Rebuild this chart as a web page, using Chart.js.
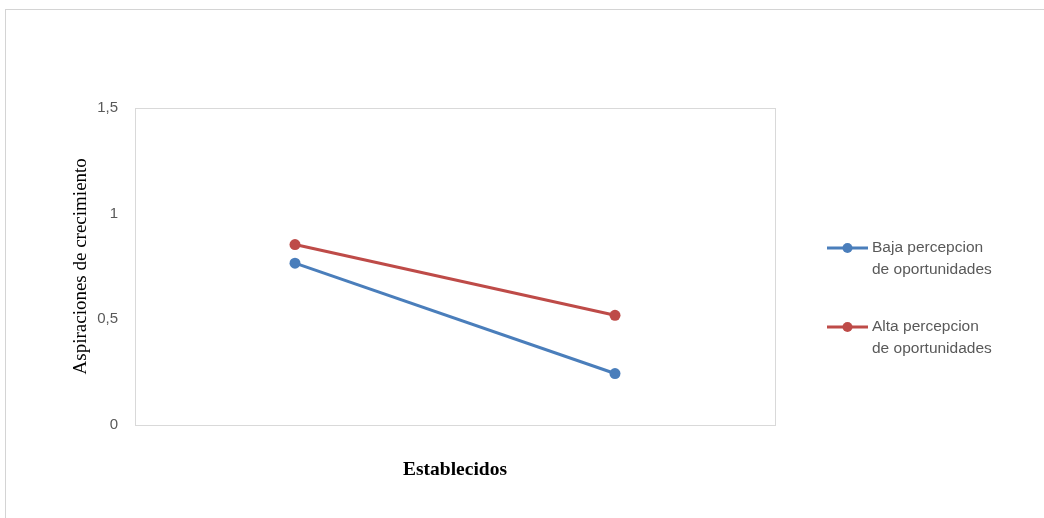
<!DOCTYPE html>
<html>
<head>
<meta charset="utf-8">
<script src="https://cdn.jsdelivr.net/npm/chart.js@4"></script>
<style>
  html, body { margin: 0; padding: 0; background: #fff; }
  #wrap { position: relative; width: 1044px; height: 518px; overflow: hidden; }
  #frame { position: absolute; left: 5px; top: 9px; width: 1100px; height: 600px;
           border-top: 1px solid #d4d4d4; border-left: 1px solid #d4d4d4; }
  canvas { position: absolute; left: 0; top: 0; }
</style>
</head>
<body>
<div id="wrap">
  <div id="frame"></div>
  <canvas id="chart" width="1044" height="518"></canvas>
</div>
<script>
const categories = ['Baja', 'Alta'];
const bajaValues = [0.765, 0.242];
const altaValues = [0.853, 0.518];
const seriesNames = [
  ['Baja percepcion', 'de oportunidades'],
  ['Alta percepcion', 'de oportunidades']
];
const yTicks = [0, 0.5, 1, 1.5];

const colors = ['#4a7ebb', '#be4b48'];

// plot area border + legend on the right
const extras = {
  id: 'extras',
  beforeDraw(chart) {
    const a = chart.chartArea;
    const ctx = chart.ctx;
    ctx.save();
    ctx.strokeStyle = '#d9d9d9';
    ctx.lineWidth = 1;
    ctx.strokeRect(Math.round(a.left) + 0.5, Math.round(a.top) + 0.5,
      Math.round(a.right - a.left), Math.round(a.bottom - a.top));
    ctx.restore();
  },
  afterDraw(chart) {
    const ctx = chart.ctx;
    ctx.save();
    chart.data.datasets.forEach((ds, i) => {
      const y = 248 + i * 79;
      ctx.strokeStyle = ds.borderColor;
      ctx.lineWidth = 3;
      ctx.beginPath();
      ctx.moveTo(827, y);
      ctx.lineTo(868, y);
      ctx.stroke();
      ctx.fillStyle = ds.borderColor;
      ctx.beginPath();
      ctx.arc(847.5, y, 5, 0, Math.PI * 2);
      ctx.fill();
      ctx.fillStyle = '#595959';
      ctx.font = '15.5px "Liberation Sans", Arial, sans-serif';
      ctx.textBaseline = 'middle';
      ctx.textAlign = 'left';
      seriesNames[i].forEach((line, j) => {
        ctx.fillText(line, 872, y + j * 22);
      });
    });
    ctx.restore();
  }
};

new Chart(document.getElementById('chart'), {
  type: 'line',
  data: {
    labels: categories,
    datasets: [
      {
        label: seriesNames[0].join(' '),
        data: bajaValues,
        borderColor: colors[0],
        backgroundColor: colors[0],
        borderWidth: 3,
        pointRadius: 5.5,
        pointHoverRadius: 5.5,
        pointBorderWidth: 0
      },
      {
        label: seriesNames[1].join(' '),
        data: altaValues,
        borderColor: colors[1],
        backgroundColor: colors[1],
        borderWidth: 3,
        pointRadius: 5.5,
        pointHoverRadius: 5.5,
        pointBorderWidth: 0
      }
    ]
  },
  options: {
    responsive: false,
    animation: false,
    layout: { padding: { left: 60, right: 269, top: 108, bottom: 10 } },
    plugins: {
      legend: { display: false },
      tooltip: { enabled: false }
    },
    scales: {
      x: {
        offset: true,
        grid: { display: false, drawTicks: false },
        border: { display: false },
        ticks: { display: false },
        title: {
          display: true,
          text: 'Establecidos',
          color: '#000',
          font: { family: '"Liberation Serif", "Times New Roman", serif', size: 19.5, weight: 'bold' },
          padding: { top: 34, bottom: 26 }
        }
      },
      y: {
        min: 0,
        max: 1.5,
        afterBuildTicks: scale => { scale.ticks = yTicks.map(v => ({ value: v })); },
        afterFit: scale => { scale.width = 75; },
        grid: { display: false, drawTicks: false },
        border: { display: false },
        ticks: {
          padding: 17,
          color: '#595959',
          font: { family: '"Liberation Sans", Arial, sans-serif', size: 15 },
          callback: v => String(v).replace('.', ',')
        },
        title: {
          display: true,
          text: 'Aspiraciones de crecimiento',
          color: '#000',
          font: { family: '"Liberation Serif", "Times New Roman", serif', size: 19 },
          padding: { top: 9.5, bottom: 0 }
        }
      }
    }
  },
  plugins: [extras]
});
</script>
</body>
</html>
